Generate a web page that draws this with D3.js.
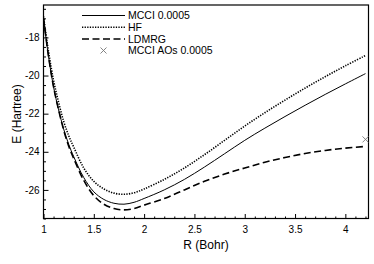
<!DOCTYPE html>
<html>
<head>
<meta charset="utf-8">
<script src="https://cdn.jsdelivr.net/npm/d3@7"></script>
<style>
  body { margin: 0; background: #fff; }
  svg { display: block; font-family: "Liberation Sans", Arial, sans-serif; }
</style>
</head>
<body>
<div id="chart"></div>
<script>
// bond length R (Bohr)
const R = [1.0, 1.05, 1.1, 1.15, 1.2, 1.25, 1.3, 1.4, 1.5, 1.6, 1.7, 1.8, 1.9,
           2.0, 2.2, 2.4, 2.6, 2.8, 3.0, 3.2, 3.4, 3.6, 3.8, 4.0, 4.2];

// energies (Hartree)
const mcci = [-17.0, -19.0, -20.6, -21.8, -22.8, -23.6, -24.25, -25.35, -26.1, -26.5, -26.7, -26.75, -26.65,
              -26.45, -26.0, -25.45, -24.8, -24.1, -23.4, -22.76, -22.15, -21.56, -20.99, -20.44, -19.9];
const hf = [-16.9, -18.75, -20.25, -21.4, -22.4, -23.15, -23.75, -24.85, -25.55, -25.95, -26.17, -26.23, -26.15,
            -25.95, -25.45, -24.85, -24.15, -23.4, -22.65, -21.95, -21.29, -20.66, -20.06, -19.49, -18.95];
const ldmrg = [-17.0, -19.0, -20.6, -21.8, -22.85, -23.7, -24.35, -25.5, -26.3, -26.75, -26.98, -27.05, -26.98,
               -26.8, -26.45, -26.0, -25.55, -25.17, -24.85, -24.55, -24.3, -24.09, -23.93, -23.81, -23.72];

// single MCCI AOs point
const aosR = [4.2];
const aosE = [-23.35];

const seriesNames = ["MCCI 0.0005", "HF", "LDMRG", "MCCI AOs 0.0005"];
const xTicks = [1, 1.5, 2, 2.5, 3, 3.5, 4];
const yTicks = [-18, -20, -22, -24, -26];

//==============================================================================

const width = 374, height = 264;
const margin = {top: 5, right: 5.5, bottom: 45.5, left: 43.5};

const svg = d3.select("#chart").append("svg")
    .attr("width", width)
    .attr("height", height);

const x = d3.scaleLinear().domain([1, 4.23]).range([margin.left, width - margin.right]);
const y = d3.scaleLinear().domain([-27.5, -16.3]).range([height - margin.bottom, margin.top]);

svg.append("clipPath").attr("id", "plot")
  .append("rect")
    .attr("x", margin.left).attr("y", margin.top)
    .attr("width", x.range()[1] - x.range()[0])
    .attr("height", y.range()[0] - y.range()[1]);

// minor + major ticks, pointing inward
const xMinor = d3.range(10, 43).map(d => d / 10).filter(d => !xTicks.includes(d));
const yMinor = d3.range(-55, -32).map(d => d / 2).filter(d => !yTicks.includes(d));

svg.append("g")
    .attr("transform", `translate(0,${y.range()[0]})`)
    .call(d3.axisBottom(x).tickValues(xMinor).tickSize(-2).tickFormat(""))
    .call(g => g.select(".domain").remove());

svg.append("g")
    .attr("transform", `translate(0,${y.range()[0]})`)
    .call(d3.axisBottom(x).tickValues(xTicks).tickSize(-4.5).tickPadding(7).tickFormat(d3.format("")))
    .call(g => g.select(".domain").remove())
    .call(g => g.selectAll("text").attr("font-size", 10).attr("font-family", null).attr("fill", "#000"));

svg.append("g")
    .attr("transform", `translate(${x.range()[0]},0)`)
    .call(d3.axisLeft(y).tickValues(yMinor).tickSize(-2.5).tickFormat(""))
    .call(g => g.select(".domain").remove());

svg.append("g")
    .attr("transform", `translate(${x.range()[0]},0)`)
    .call(d3.axisLeft(y).tickValues(yTicks).tickSize(-5).tickPadding(4).tickFormat(d => "-" + Math.abs(d)))
    .call(g => g.select(".domain").remove())
    .call(g => g.selectAll("text").attr("font-size", 10).attr("font-family", null).attr("fill", "#000"));

// frame
svg.append("rect")
    .attr("x", x.range()[0]).attr("y", y.range()[1])
    .attr("width", x.range()[1] - x.range()[0])
    .attr("height", y.range()[0] - y.range()[1])
    .attr("fill", "none")
    .attr("stroke", "#000")
    .attr("stroke-width", 1.2);

// curves
const styles = [
  {data: mcci, width: 1, dash: null},
  {data: hf, width: 1.6, dash: "1.3,1.3"},
  {data: ldmrg, width: 1.6, dash: "7,3.5"}
];

const line = d3.line()
    .x((d, i) => x(R[i]))
    .y(d => y(d))
    .curve(d3.curveCatmullRom.alpha(0.5));

svg.append("g")
    .attr("clip-path", "url(#plot)")
  .selectAll("path")
  .data(styles)
  .join("path")
    .attr("d", s => line(s.data))
    .attr("fill", "none")
    .attr("stroke", "#000")
    .attr("stroke-width", s => s.width)
    .attr("stroke-dasharray", s => s.dash);

function cross(g, cx, cy, r) {
  g.append("path")
    .attr("d", `M${cx - r},${cy - r}L${cx + r},${cy + r}M${cx - r},${cy + r}L${cx + r},${cy - r}`)
    .attr("stroke", "#777")
    .attr("stroke-width", 0.9)
    .attr("fill", "none");
}

const pts = svg.append("g");
aosR.forEach((r, i) => cross(pts, x(r), y(aosE[i]), 3));

// legend
const legend = svg.append("g");
const legendY = [15.5, 27.3, 39, 50.5];
seriesNames.forEach((name, i) => {
  if (i < 3) {
    legend.append("line")
      .attr("x1", 82).attr("x2", 125)
      .attr("y1", legendY[i]).attr("y2", legendY[i])
      .attr("stroke", "#000")
      .attr("stroke-width", styles[i].width)
      .attr("stroke-dasharray", styles[i].dash);
  } else {
    cross(legend, 103.5, legendY[i], 3);
  }
  legend.append("text")
    .attr("x", 128).attr("y", legendY[i])
    .attr("dy", "0.35em")
    .attr("font-size", 10.5)
    .text(name);
});

// axis titles
svg.append("text")
    .attr("x", (x.range()[0] + x.range()[1]) / 2)
    .attr("y", 245)
    .attr("dy", "0.35em")
    .attr("text-anchor", "middle")
    .attr("font-size", 12)
    .text("R (Bohr)");

svg.append("text")
    .attr("transform", `translate(17,114) rotate(-90)`)
    .attr("dy", "0.35em")
    .attr("text-anchor", "middle")
    .attr("font-size", 12)
    .text("E (Hartree)");
</script>
</body>
</html>
